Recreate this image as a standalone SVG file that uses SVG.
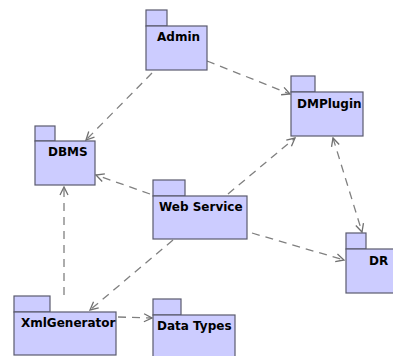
<svg xmlns="http://www.w3.org/2000/svg" width="393" height="356" viewBox="0 0 393 356">
<defs>
<style>
.box{fill:#ccccff;stroke:#5a5a6e;stroke-width:1.2}
.lbl{font-family:"DejaVu Sans",Verdana,sans-serif;font-weight:bold;font-size:12px;fill:#000}
.dep{fill:none;stroke:#808080;stroke-width:1.3;stroke-dasharray:8,6}
</style>
<marker id="arr" viewBox="0 0 10 10" refX="9" refY="5" markerWidth="10" markerHeight="10" markerUnits="userSpaceOnUse" orient="auto-start-reverse">
<path d="M1,1 L9,5 L1,9" fill="none" stroke="#707070" stroke-width="1.3"/>
</marker>
</defs>
<rect width="393" height="356" fill="#ffffff"/>
<g id="connectors">
<line class="dep" x1="207" y1="61" x2="290" y2="94" marker-end="url(#arr)"/>
<line class="dep" x1="152" y1="73" x2="86" y2="140" marker-end="url(#arr)"/>
<line class="dep" x1="150" y1="194" x2="96" y2="175" marker-end="url(#arr)"/>
<line class="dep" x1="228" y1="194" x2="295" y2="138" marker-end="url(#arr)"/>
<line class="dep" x1="333" y1="138" x2="362" y2="232" marker-start="url(#arr)" marker-end="url(#arr)"/>
<line class="dep" x1="252" y1="233" x2="344" y2="260" marker-end="url(#arr)"/>
<line class="dep" x1="173" y1="240" x2="90" y2="310" marker-end="url(#arr)"/>
<line class="dep" x1="64" y1="295" x2="64" y2="187" marker-end="url(#arr)"/>
<line class="dep" x1="118" y1="317" x2="152" y2="318" marker-end="url(#arr)"/>
</g>
<g id="admin">
<rect class="box" x="146" y="10" width="21" height="16"/>
<rect class="box" x="146" y="26" width="61" height="44"/>
<text class="lbl" x="157" y="41">Admin</text>
</g>
<g id="dmplugin">
<rect class="box" x="291" y="76" width="24" height="16"/>
<rect class="box" x="291" y="92" width="72" height="44"/>
<text class="lbl" x="297" y="108">DMPlugin</text>
</g>
<g id="dbms">
<rect class="box" x="35" y="126" width="20" height="15"/>
<rect class="box" x="35" y="141" width="60" height="44"/>
<text class="lbl" x="48" y="156">DBMS</text>
</g>
<g id="webservice">
<rect class="box" x="153" y="180" width="32" height="16"/>
<rect class="box" x="153" y="196" width="94" height="43"/>
<text class="lbl" x="159" y="211">Web Service</text>
</g>
<g id="dr">
<rect class="box" x="346" y="233" width="20" height="16"/>
<rect class="box" x="346" y="249" width="50" height="44"/>
<text class="lbl" x="369" y="265">DR</text>
</g>
<g id="xmlgenerator">
<rect class="box" x="14" y="296" width="36" height="16"/>
<rect class="box" x="14" y="312" width="102" height="43"/>
<text class="lbl" x="21" y="327">XmlGenerator</text>
</g>
<g id="datatypes">
<rect class="box" x="153" y="299" width="28" height="16"/>
<rect class="box" x="153" y="315" width="82" height="45"/>
<text class="lbl" x="157" y="330">Data Types</text>
</g>
</svg>
